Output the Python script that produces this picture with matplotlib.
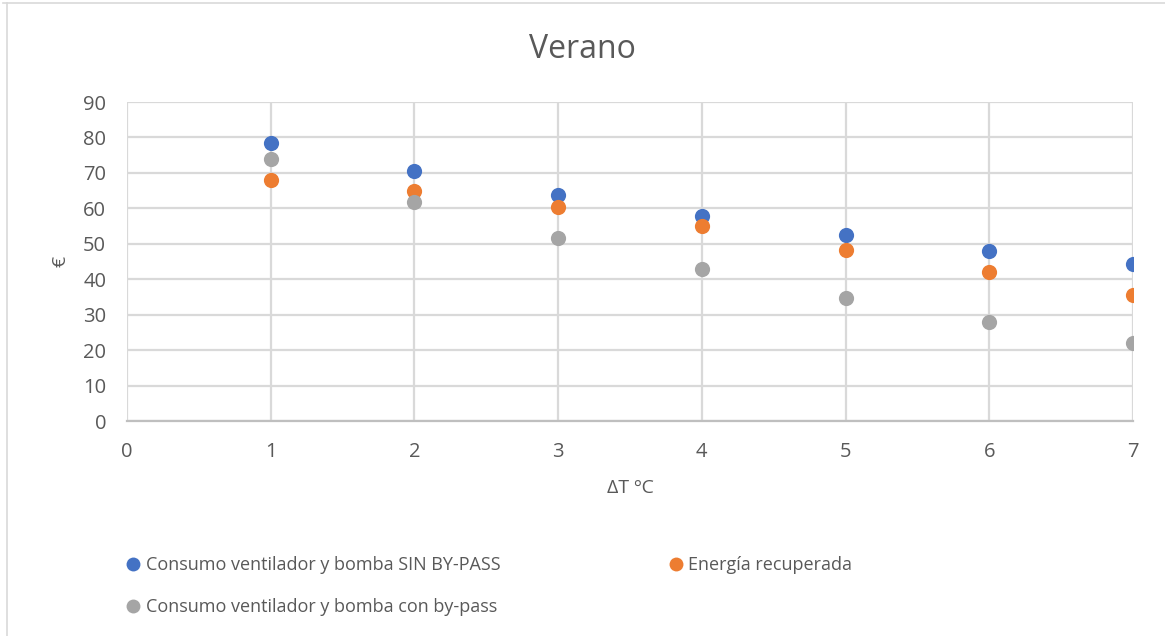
import matplotlib
matplotlib.use("Agg")
import matplotlib.pyplot as plt
from matplotlib.lines import Line2D

plt.rcParams['font.family'] = ['Open Sans', 'DejaVu Sans']

delta_t = [1, 2, 3, 4, 5, 6, 7]
sin_bypass = [78.4, 70.5, 63.8, 57.8, 52.5, 48.0, 44.2]
energia_recuperada = [68.0, 64.9, 60.3, 55.0, 48.3, 42.0, 35.5]
con_bypass = [73.9, 61.8, 51.6, 42.9, 34.6, 27.9, 22.1]

series_labels = ["Consumo ventilador y bomba SIN BY-PASS",
                 "Energía recuperada",
                 "Consumo ventilador y bomba con by-pass"]
colors = ["#4472C4", "#ED7D31", "#A5A5A5"]

x_ticks = [0, 1, 2, 3, 4, 5, 6, 7]
y_ticks = [0, 10, 20, 30, 40, 50, 60, 70, 80, 90]

text_color = "#595959"
grid_color = "#D9D9D9"

fig = plt.figure(figsize=(11.65, 6.36), dpi=100)
ax = fig.add_axes([0.109, 0.338, 0.8635, 0.5016])

for vals, col, lab in zip([sin_bypass, energia_recuperada, con_bypass], colors, series_labels):
    ax.scatter(delta_t, vals, s=120, color=col, label=lab, zorder=3, linewidths=0)

ax.set_xlim(0, 7)
ax.set_ylim(0, 90)
ax.set_xticks(x_ticks)
ax.set_yticks(y_ticks)
ax.grid(True, color=grid_color, linewidth=1.6)
ax.set_axisbelow(True)
for side in ["top", "right", "left"]:
    ax.spines[side].set_visible(False)
ax.spines["bottom"].set_color("#BFBFBF")
ax.spines["bottom"].set_linewidth(1.6)
ax.tick_params(length=0, labelsize=14.5, colors=text_color)
ax.tick_params(axis='x', pad=15)
ax.tick_params(axis='y', pad=15)
for lbl in ax.get_xticklabels() + ax.get_yticklabels():
    lbl.set_color(text_color)

ax.set_xlabel("ΔT ºC", fontsize=14, color=text_color, labelpad=12)
ax.set_ylabel("€", fontsize=14, color=text_color, labelpad=10)

fig.text(0.5, 0.922, "Verano", ha="center", va="center", fontsize=23, color=text_color)

handles = [Line2D([], [], linestyle="none", marker="o", markersize=10,
                  markerfacecolor=c, markeredgewidth=0) for c in colors]
# legend fills column by column; order entries so rows read left to right
order = [0, 2, 1]
fig.legend([handles[i] for i in order], [series_labels[i] for i in order],
           loc="upper left", bbox_to_anchor=(0.1065, 0.126),
           ncol=2, frameon=False, fontsize=13, labelcolor=text_color,
           handletextpad=0.2, handlelength=1.0, columnspacing=9.2, labelspacing=1.33,
           borderaxespad=0, borderpad=0)

# chart frame
fig.add_artist(Line2D([0.003, 1.0], [0.995, 0.995], transform=fig.transFigure,
                      color="#D9D9D9", linewidth=1.2))
fig.add_artist(Line2D([0.006, 0.006], [0.0, 0.995], transform=fig.transFigure,
                      color="#D9D9D9", linewidth=1.2))

fig.savefig("out.png", dpi=100, facecolor="white")
